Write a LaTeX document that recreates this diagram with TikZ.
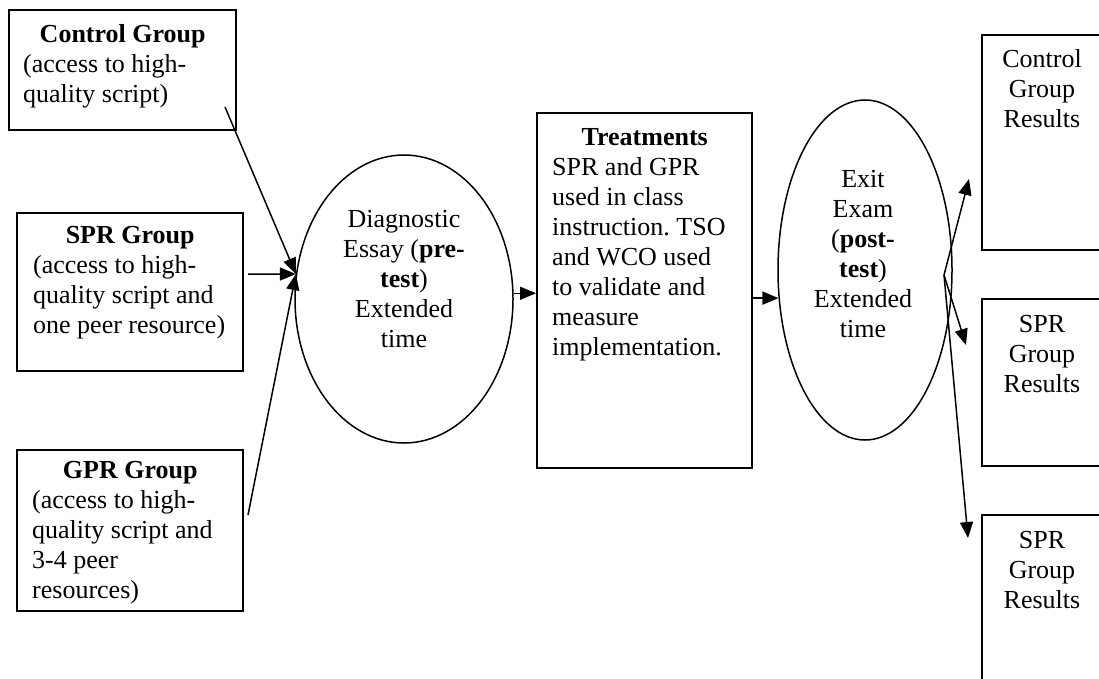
\documentclass[tikz,border=0pt]{standalone}
\usepackage{fontspec}
\setmainfont{Liberation Serif}
\usetikzlibrary{arrows.meta,shapes.geometric}
\frenchspacing
\tikzset{every node/.append style={font=\fontsize{26}{30}\selectfont}}
\tikzset{
  grpbox/.style={draw,line width=2pt,inner sep=0pt},
  stage/.style={draw,ellipse,line width=1.5pt,inner sep=0pt},
  txt/.style={inner sep=0pt,anchor=base west,align=left},
  ctxt/.style={inner sep=0pt,anchor=base,align=center},
  arr/.style={-{Triangle[length=16pt,width=13pt]},line width=1.5pt}
}

\begin{document}
\begin{tikzpicture}[x=1pt,y=-1pt]
  \useasboundingbox (0,0) rectangle (1099,679);
  % groups (text nodes sit on their last baseline)
  \node[grpbox,minimum width=227pt,minimum height=120pt] (ctrl) at (122.5,70) {};
  \node[grpbox,minimum width=226pt,minimum height=158pt] (spr) at (130,292) {};
  \node[grpbox,minimum width=226pt,minimum height=161pt] (gpr) at (130,530.5) {};
  \node[txt] (ctrltxt) at (23,103) {\makebox[199pt]{\textbf{Control Group}}\\(access to high-\\quality script)};
  \node[txt] (sprtxt) at (33,333) {\makebox[194pt]{\textbf{SPR Group}}\\(access to high-\\quality script and\\one peer resource)};
  \node[txt] (gprtxt) at (32,598) {\makebox[196pt]{\textbf{GPR Group}}\\(access to high-\\quality script and\\3-4 peer\\resources)};
  % stages
  \node[stage,minimum width=218pt,minimum height=288pt] (diag) at (404,299) {};
  \node[ctxt] (diagtxt) at (404,347) {Diagnostic\\Essay (\textbf{pre-}\\\textbf{test})\\Extended\\time};
  \node[grpbox,minimum width=215pt,minimum height=355pt] (treat) at (644.5,290.5) {};
  \node[txt] (treattxt) at (552,355) {\makebox[185pt]{\textbf{Treatments}}\\SPR and GPR\\used in class\\instruction. TSO\\and WCO used\\to validate and\\measure\\implementation.};
  \node[stage,minimum width=174pt,minimum height=340pt] (exit) at (865,270) {};
  \node[ctxt] (exittxt) at (863,337) {Exit\\Exam\\(\textbf{post-}\\\textbf{test})\\Extended\\time};
  % results
  \node[grpbox,minimum width=121pt,minimum height=215pt] (resa) at (1042.5,142.5) {};
  \node[grpbox,minimum width=121pt,minimum height=167pt] (resb) at (1042.5,382.5) {};
  \node[grpbox,minimum width=121pt,minimum height=185pt] (resc) at (1042.5,607.5) {};
  \node[ctxt] (resatxt) at (1042,128) {Control\\Group\\Results};
  \node[ctxt] (resbtxt) at (1042,392) {SPR\\Group\\Results};
  \node[ctxt] (resctxt) at (1042,608) {SPR\\Group\\Results};
  % arrows
  \coordinate (ctrlfoot) at (225,107);
  \coordinate (sprfoot) at (248,274);
  \coordinate (gprfoot) at (248,515);
  \coordinate (fan) at (944,275);
  \coordinate (tipa) at (969,179);
  \coordinate (tipb) at (966,345);
  \coordinate (tipc) at (968,538);
  \draw[arr] (ctrlfoot) -- (diag.167);
  \draw[arr] (sprfoot) -- (diag.167);
  \draw[arr] (gprfoot) -- (diag.167);
  \draw[arr] (diag.3) -- (diag.3 -| treat.west);
  \draw[arr] (exit.198 -| treat.east) -- (exit.198);
  \draw[arr] (fan) -- (tipa);
  \draw[arr] (fan) -- (tipb);
  \draw[arr] (fan) -- (tipc);
\end{tikzpicture}
\end{document}
